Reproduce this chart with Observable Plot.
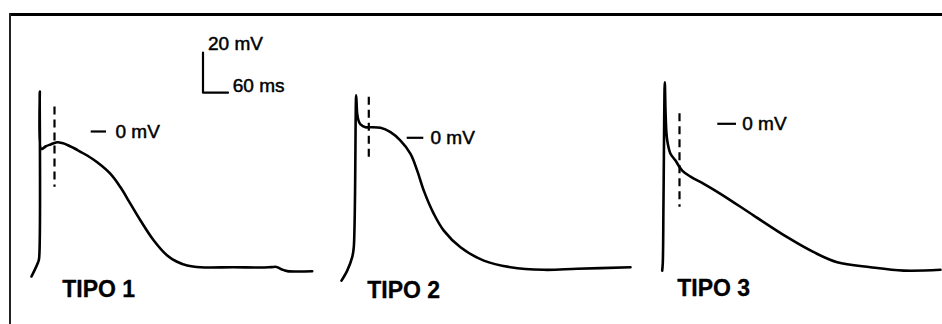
<!DOCTYPE html>
<html>
<head>
<meta charset="utf-8">
<script src="https://cdn.jsdelivr.net/npm/d3@7"></script>
<script src="https://cdn.jsdelivr.net/npm/@observablehq/plot@0.6"></script>
<style>
  html, body { margin: 0; padding: 0; background: #fff; }
  #wrap { position: relative; width: 942px; height: 324px; overflow: hidden; }
  #wrap svg { position: absolute; left: 0; top: 0; }
  .bt { position: absolute; left: 10px; top: 13px; width: 932px; height: 2.5px; background: #000; }
  .bl { position: absolute; left: 9px; top: 13px; width: 2px; height: 311px; background: #222; }
</style>
</head>
<body>
<div id="wrap"><div class="bt"></div><div class="bl"></div></div>
<script>
// ---- Data (time in ms from upstroke, voltage in mV relative to each trace's 0 mV) ----
const traceNames = ["TIPO 1", "TIPO 2", "TIPO 3"];
const traceStartMs = [94.3, 850.3, 1591.9];   // position of each upstroke on the sheet (ms)
const traceZeroMv = [0, -3.15, 3.85];          // level of each trace's 0 mV mark on the sheet (mV)

const trace1T = [-19.9, -4.3, -1.7, 0, 2.4, 5.8, 13.7, 25.7, 41.8, 53.8, 68.9, 89.8, 113.8, 137.8, 169.7, 193.7, 217.7, 241.7, 273.6, 305.8, 328.1, 353.8, 385.7, 464.9, 529.7, 556, 568, 580, 594, 653.8];
const trace1V = [-72.5, -65.5, -63.5, 20, -8.5, -8.7, -7.5, -6.5, -5.4, -5.8, -7, -9.2, -12, -15.4, -21.2, -27.9, -36.2, -44.5, -54.5, -62, -65, -67, -67.9, -67.9, -68, -67.8, -67.7, -68.9, -69.8, -69.9];

const trace2T = [-31.9, -18.2, -6.2, -2.4, 3.4, 5.8, 9.6, 13.7, 25.7, 37.7, 61.7, 85.7, 109.7, 133.7, 149.8, 165.6, 189.6, 213.6, 253.7, 309.6, 373.7, 453.6, 533.8, 661.7];
const trace2V = [-71.4, -66.4, -59.7, -54.7, 21.2, 12, 8.2, 6.7, 5.3, 5.3, 5, 2.8, -1.4, -8, -16.4, -26.4, -38, -46.4, -54.7, -61.4, -64.7, -66, -65.5, -64.7];

const trace3T = [-3.8, -2.4, -0.7, 2.4, 4.1, 6.5, 9.6, 16.1, 28.1, 44.2, 64.1, 96, 136.1, 216, 296.2, 360, 416.2, 496.1, 576, 664.1];
const trace3V = [-73.4, -69.4, -38.4, 20.8, 6.7, -5, -10, -15, -18.4, -23.4, -26.4, -30, -35, -45.9, -56.7, -64.2, -69.2, -71.7, -73.4, -73];

// dashed vertical markers (ms, mV relative to trace)
const dashT = [35.3, 33.6, 37.7];
const dashTopMv = [12.2, 20.3, 5];
const dashBottomMv = [-27.9, -12.2, -41.7];

// "— 0 mV" markers
const zeroDashStartMs = [123.4, 125.8, 129.6];
const zeroDashEndMs = [160.1, 165.6, 174.5];
const zeroLabelMs = [181.7, 181.7, 188.2];
const zeroLabel = "0 mV";

// TIPO labels (relative to trace)
const labelT = [53.8, 29.8, 32.2];
const labelV = [-79.2, -76.4, -82.5];

// calibration bar
const scaleBarCornerMs = 486;
const scaleBarCornerMv = 19.4;
const scaleBarMv = 20;
const scaleBarMs = 60;
const scaleBarLabels = ["20 mV", "60 ms"];

// ---- Build tables ----
const traceT = [trace1T, trace2T, trace3T];
const traceV = [trace1V, trace2V, trace3V];
const traces = [];
traceNames.forEach((name, i) => {
  traceT[i].forEach((t, j) => traces.push({trace: name, t: t + traceStartMs[i], v: traceV[i][j] + traceZeroMv[i]}));
});
const dashes = traceNames.map((name, i) => ({t: dashT[i] + traceStartMs[i], y1: dashTopMv[i] + traceZeroMv[i], y2: dashBottomMv[i] + traceZeroMv[i]}));
const zeros = traceNames.map((name, i) => ({v: traceZeroMv[i], x1: zeroDashStartMs[i] + traceStartMs[i], x2: zeroDashEndMs[i] + traceStartMs[i], lt: zeroLabelMs[i] + traceStartMs[i]}));
const labels = traceNames.map((name, i) => ({name, t: labelT[i] + traceStartMs[i], v: labelV[i] + traceZeroMv[i]}));
const bar = [
  {t: scaleBarCornerMs, v: scaleBarCornerMv + scaleBarMv},
  {t: scaleBarCornerMs, v: scaleBarCornerMv},
  {t: scaleBarCornerMs + scaleBarMs, v: scaleBarCornerMv}
];
const barText = [
  {s: scaleBarLabels[0], t: scaleBarCornerMs + 12, v: scaleBarCornerMv + scaleBarMv + 4.2},
  {s: scaleBarLabels[1], t: scaleBarCornerMs + 71.5, v: scaleBarCornerMv + 3.2}
];

const font = "Liberation Sans, Arial, Helvetica, sans-serif";

const chart = Plot.plot({
  width: 942,
  height: 324,
  margin: 0,
  style: {fontFamily: font, background: "transparent", color: "#000"},
  x: {domain: [0, 2260.8], axis: null},
  y: {domain: [-96.5, 65.5], axis: null},
  marks: [
    Plot.line(traces, {x: "t", y: "v", z: "trace", stroke: "#000", strokeWidth: 2.6, curve: "catmull-rom", strokeLinejoin: "round", strokeLinecap: "round"}),
    Plot.ruleX(dashes, {x: "t", y1: "y1", y2: "y2", stroke: "#000", strokeWidth: 2.2, strokeDasharray: "8,5"}),
    Plot.ruleY(zeros, {y: "v", x1: "x1", x2: "x2", stroke: "#000", strokeWidth: 2.2}),
    Plot.text(zeros, {x: "lt", y: "v", text: () => zeroLabel, textAnchor: "start", fontSize: 19, fill: "#000", stroke: "#000", strokeWidth: 0.5}),
    Plot.text(labels, {x: "t", y: "v", text: "name", textAnchor: "start", fontSize: 23, fontWeight: "bold", fill: "#000", stroke: "#000", strokeWidth: 0.3}),
    Plot.line(bar, {x: "t", y: "v", stroke: "#000", strokeWidth: 2.2}),
    Plot.text(barText, {x: "t", y: "v", text: "s", textAnchor: "start", fontSize: 19, fill: "#000", stroke: "#000", strokeWidth: 0.5})
  ]
});
document.getElementById("wrap").appendChild(chart);
</script>
</body>
</html>
